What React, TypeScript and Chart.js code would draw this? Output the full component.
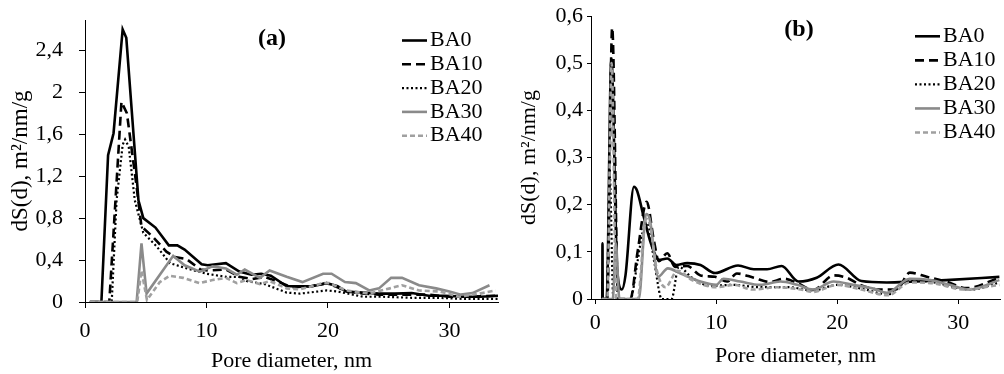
import React, { useEffect, useRef } from "react";
import { Chart, registerables } from "chart.js";
Chart.register(...registerables);

// ---------- labels & ticks ----------
const SERIES_LABELS = ["BA0", "BA10", "BA20", "BA30", "BA40"];
const X_TICKS = [0, 10, 20, 30];
const A_Y_TICKS = [0, 0.4, 0.8, 1.2, 1.6, 2, 2.4];
const B_Y_TICKS = [0, 0.1, 0.2, 0.3, 0.4, 0.5, 0.6];
const X_TITLE = "Pore diameter, nm";
const Y_TITLE = "dS(d), m²/nm/g";

// ---------- panel (a) data ----------
const A_BA0_X = [0.4, 1.35, 1.9, 2.35, 3.1, 3.4, 4.4, 4.8, 5.8, 6.9, 7.6, 8.2, 9.6, 10.1, 11.6, 12.7, 13.7, 14.5, 15.3, 16.6, 17.7, 18.7, 19.9, 20.8, 21.5, 22.8, 24.2, 25.5, 26.9, 28.3, 29.6, 31.3, 32.6, 34];
const A_BA0_Y = [0, 0, 1.4, 1.61, 2.6, 2.52, 0.97, 0.8, 0.71, 0.54, 0.54, 0.5, 0.36, 0.35, 0.37, 0.29, 0.26, 0.27, 0.25, 0.15, 0.15, 0.15, 0.18, 0.15, 0.1, 0.09, 0.08, 0.08, 0.085, 0.06, 0.06, 0.05, 0.05, 0.06];

const A_BA10_X = [0.4, 2.0, 2.5, 3.0, 3.45, 4.25, 4.65, 5.6, 6.7, 7.4, 8.35, 9.5, 10.2, 11.6, 12.7, 13.8, 14.8, 16.2, 17.0, 18.6, 19.9, 20.8, 21.5, 23, 24.2, 26, 28.3, 30, 31.5, 34];
const A_BA10_Y = [0, 0, 0.95, 1.91, 1.8, 1.1, 0.72, 0.62, 0.48, 0.43, 0.41, 0.31, 0.3, 0.31, 0.24, 0.22, 0.24, 0.18, 0.14, 0.15, 0.18, 0.14, 0.1, 0.08, 0.07, 0.07, 0.07, 0.05, 0.05, 0.06];

const A_BA20_X = [0.4, 2.2, 2.6, 3.1, 3.3, 3.6, 4.1, 4.8, 5.9, 7.0, 8.4, 10.0, 11.6, 12.7, 13.3, 14.8, 16.6, 17.7, 19.9, 20.8, 22.9, 24.5, 26.9, 29, 31, 34];
const A_BA20_Y = [0, 0, 0.97, 1.5, 1.55, 1.48, 0.97, 0.66, 0.53, 0.37, 0.32, 0.27, 0.24, 0.24, 0.2, 0.17, 0.09, 0.08, 0.11, 0.1, 0.05, 0.05, 0.04, 0.04, 0.03, 0.03];

const A_BA30_X = [0.4, 4.25, 4.65, 5.07, 6.16, 7.26, 8.2, 9.45, 10.5, 11.6, 12.5, 13.15, 14.4, 15.2, 16.6, 17.9, 19.6, 20.3, 21.4, 22.3, 23.4, 24.2, 25.2, 26.1, 27.5, 28.9, 30.0, 30.95, 31.9, 33.3];
const A_BA30_Y = [0, 0, 0.56, 0.08, 0.26, 0.44, 0.35, 0.29, 0.34, 0.32, 0.26, 0.31, 0.23, 0.3, 0.24, 0.19, 0.27, 0.27, 0.19, 0.18, 0.11, 0.13, 0.23, 0.23, 0.16, 0.13, 0.1, 0.07, 0.085, 0.16];

const A_BA40_X = [0.4, 4.3, 4.65, 5.1, 6.16, 6.98, 8.08, 9.45, 10.5, 11.6, 12.5, 13.3, 14.4, 15.2, 16.6, 17.7, 19.6, 20.1, 21.5, 23.4, 25.1, 26.1, 27.5, 29.2, 30.8, 32.5, 33.8];
const A_BA40_Y = [0, 0, 0.3, 0.02, 0.19, 0.25, 0.23, 0.18, 0.21, 0.23, 0.18, 0.21, 0.17, 0.2, 0.13, 0.12, 0.18, 0.18, 0.11, 0.08, 0.13, 0.16, 0.11, 0.1, 0.05, 0.08, 0.11];

// ---------- panel (b) data ----------
const B_BA0_X = [0.55, 0.58, 0.6, 0.62, 0.94, 1.33, 1.82, 2.2, 2.5, 3.2, 3.45, 4.0, 4.6, 5.26, 5.95, 6.7, 7.6, 8.7, 9.9, 11.8, 13.1, 14.2, 15.4, 16.8, 18.3, 20.1, 22.0, 24.1, 26.3, 29.0, 33.4];
const B_BA0_Y = [0, 0, 0.118, 0, 0, 0.51, 0.06, 0.02, 0.05, 0.238, 0.23, 0.175, 0.118, 0.083, 0.086, 0.072, 0.076, 0.072, 0.055, 0.071, 0.063, 0.063, 0.07, 0.037, 0.045, 0.073, 0.038, 0.035, 0.037, 0.04, 0.047];

const B_BA10_X = [0.55, 1.0, 1.4, 1.9, 2.9, 3.5, 4.25, 4.84, 5.26, 5.95, 6.6, 7.6, 8.7, 9.9, 10.9, 11.7, 13.1, 14.4, 15.6, 16.7, 18.0, 19.7, 20.8, 21.9, 23.5, 24.9, 26.0, 27.4, 29.0, 30.7, 33.4];
const B_BA10_Y = [0, 0, 0.575, 0, 0, 0.1, 0.206, 0.125, 0.08, 0.097, 0.068, 0.07, 0.05, 0.047, 0.037, 0.054, 0.045, 0.036, 0.043, 0.034, 0.019, 0.05, 0.045, 0.03, 0.02, 0.02, 0.056, 0.047, 0.037, 0.023, 0.045];

const B_BA20_X = [0.55, 0.95, 1.2, 1.5, 2.9, 3.5, 3.9, 4.3, 4.9, 5.5, 6.3, 6.9, 8.0, 9.5, 11.5, 13.5, 16, 18, 20, 22, 24.2, 26, 28, 31, 33.4];
const B_BA20_Y = [0, 0, 0.26, 0, 0, 0.08, 0.14, 0.16, 0.075, 0, 0, 0.068, 0.045, 0.028, 0.03, 0.025, 0.025, 0.018, 0.03, 0.022, 0.01, 0.04, 0.035, 0.02, 0.035];

const B_BA30_X = [0.55, 1.45, 1.7, 2.0, 3.6, 4.2, 4.5, 5.2, 6.0, 7.05, 8.7, 10.0, 10.6, 12.0, 13.6, 15.3, 16.7, 18.0, 19.7, 21.3, 23.0, 24.1, 26.0, 27.7, 29.3, 30.9, 33.4];
const B_BA30_Y = [0, 0, 0.118, 0, 0, 0.18, 0.17, 0.047, 0.065, 0.054, 0.037, 0.03, 0.043, 0.037, 0.03, 0.037, 0.03, 0.02, 0.037, 0.03, 0.022, 0.013, 0.043, 0.04, 0.03, 0.02, 0.04];

const B_BA40_X = [0.55, 1.0, 1.35, 1.75, 3.5, 4.2, 4.5, 5.1, 5.8, 6.8, 8.0, 10.0, 11.5, 13.0, 15.0, 17.0, 18.0, 20.0, 22.0, 24.2, 26.0, 28.0, 30.5, 33.4];
const B_BA40_Y = [0, 0, 0.5, 0, 0, 0.17, 0.16, 0.06, 0.025, 0.06, 0.04, 0.025, 0.03, 0.02, 0.025, 0.02, 0.015, 0.03, 0.02, 0.008, 0.035, 0.033, 0.02, 0.03];

const A_SERIES = [[A_BA0_X, A_BA0_Y], [A_BA10_X, A_BA10_Y], [A_BA20_X, A_BA20_Y], [A_BA30_X, A_BA30_Y], [A_BA40_X, A_BA40_Y]];
const B_SERIES = [[B_BA0_X, B_BA0_Y], [B_BA10_X, B_BA10_Y], [B_BA20_X, B_BA20_Y], [B_BA30_X, B_BA30_Y], [B_BA40_X, B_BA40_Y]];

const FONT = "'Liberation Serif', 'Times New Roman', serif";

const STYLES = [
  { color: "#000000", width: 2.6, dash: [] as number[] },
  { color: "#000000", width: 2.6, dash: [9, 5] },
  { color: "#000000", width: 2.2, dash: [2, 2.5] },
  { color: "#8a8a8a", width: 2.6, dash: [] as number[] },
  { color: "#a0a0a0", width: 2.6, dash: [5, 3] },
];

const fmt = (v: number) => String(Math.round(v * 10) / 10).replace(".", ",");

type PanelCfg = {
  series: number[][][];
  yTicks: number[];
  xMin: number; xMax: number; yMax: number;
  yAxisWidth: number; xAxisHeight: number;
  padTop: number; padRight: number;
  yTickLen: number; yTickPad: number;
  xTickLen: number; xTickPad: number;
  yTitleSize: number; yTitlePad: number;
  xTitlePad: number;
  tension: number;
  legend: { x0: number; len: number; tx: number; y0: number; dy: number };
  panel: { text: string; x: number; y: number };
};

function makeChart(canvas: HTMLCanvasElement, cfg: PanelCfg) {
  const datasets = cfg.series.map((s, i) => ({
    label: SERIES_LABELS[i],
    data: s[0].map((x, j) => ({ x, y: s[1][j] })),
    borderColor: STYLES[i].color,
    borderWidth: STYLES[i].width,
    borderDash: STYLES[i].dash,
    pointRadius: 0,
    fill: false,
    tension: 0,
    cubicInterpolationMode: cfg.tension > 0 ? ("monotone" as const) : ("default" as const),
    order: 5 - i,
  }));

  const overlay = {
    id: "overlay",
    afterDraw(chart: any) {
      const ctx = chart.ctx as CanvasRenderingContext2D;
      ctx.save();
      chart.data.datasets.forEach((ds: any, i: number) => {
        const y = cfg.legend.y0 + i * cfg.legend.dy;
        ctx.beginPath();
        ctx.setLineDash(ds.borderDash || []);
        ctx.strokeStyle = ds.borderColor;
        ctx.lineWidth = ds.borderWidth;
        ctx.moveTo(cfg.legend.x0, y);
        ctx.lineTo(cfg.legend.x0 + cfg.legend.len, y);
        ctx.stroke();
        ctx.setLineDash([]);
        ctx.fillStyle = "#000";
        ctx.font = `22px ${FONT}`;
        ctx.textAlign = "left";
        ctx.textBaseline = "middle";
        ctx.fillText(ds.label, cfg.legend.tx, y);
      });
      ctx.font = `bold 24px ${FONT}`;
      ctx.textAlign = "center";
      ctx.textBaseline = "middle";
      ctx.fillStyle = "#000";
      ctx.fillText(cfg.panel.text, cfg.panel.x, cfg.panel.y);
      ctx.restore();
    },
  };

  return new Chart(canvas, {
    type: "line",
    data: { datasets },
    plugins: [overlay],
    options: {
      animation: false,
      responsive: false,
      devicePixelRatio: 1,
      layout: { padding: { top: cfg.padTop, right: cfg.padRight, left: 0, bottom: 0 } },
      plugins: { legend: { display: false }, tooltip: { enabled: false } },
      elements: { line: { tension: cfg.tension } },
      scales: {
        x: {
          type: "linear",
          min: cfg.xMin,
          max: cfg.xMax,
          afterBuildTicks: (scale: any) => {
            scale.ticks = X_TICKS.map((v) => ({ value: v }));
          },
          afterFit: (scale: any) => {
            scale.height = cfg.xAxisHeight;
            scale.paddingLeft = 0;
            scale.paddingRight = 0;
          },
          border: { display: true, color: "#000", width: 1 },
          grid: { display: true, drawOnChartArea: false, drawTicks: true, tickLength: cfg.xTickLen, color: "#000" },
          ticks: {
            color: "#000",
            font: { family: FONT, size: 22 },
            padding: cfg.xTickPad,
            maxRotation: 0,
            autoSkip: false,
            callback: (v: any) => fmt(Number(v)),
          },
          title: {
            display: true,
            text: X_TITLE,
            color: "#000",
            font: { family: FONT, size: 22 },
            padding: { top: 0, bottom: cfg.xTitlePad },
          },
        },
        y: {
          type: "linear",
          min: 0,
          max: cfg.yMax,
          afterBuildTicks: (scale: any) => {
            scale.ticks = cfg.yTicks.map((v) => ({ value: v }));
          },
          afterFit: (scale: any) => {
            scale.width = cfg.yAxisWidth;
            scale.paddingTop = 0;
            scale.paddingBottom = 0;
          },
          border: { display: true, color: "#000", width: 1 },
          grid: { display: true, drawOnChartArea: false, drawTicks: true, tickLength: cfg.yTickLen, color: "#000" },
          ticks: {
            color: "#000",
            font: { family: FONT, size: 22 },
            padding: cfg.yTickPad,
            autoSkip: false,
            callback: (v: any) => fmt(Number(v)),
          },
          title: {
            display: true,
            text: Y_TITLE,
            color: "#000",
            font: { family: FONT, size: cfg.yTitleSize },
            padding: { top: cfg.yTitlePad, bottom: 0 },
          },
        },
      },
    } as any,
  });
}

const PANEL_A: PanelCfg = {
  series: A_SERIES,
  yTicks: A_Y_TICKS,
  xMin: 0, xMax: 34, yMax: 2.69,
  yAxisWidth: 85, xAxisHeight: 72,
  padTop: 20, padRight: 7,
  yTickLen: 6, yTickPad: 16,
  xTickLen: 6, xTickPad: 10,
  yTitleSize: 23, yTitlePad: 7,
  xTitlePad: 0,
  tension: 0,
  legend: { x0: 402, len: 25, tx: 430, y0: 40.5, dy: 23.8 },
  panel: { text: "(a)", x: 272, y: 39 },
};

const PANEL_B: PanelCfg = {
  series: B_SERIES,
  yTicks: B_Y_TICKS,
  xMin: -0.35, xMax: 33.45, yMax: 0.6,
  yAxisWidth: 86, xAxisHeight: 75,
  padTop: 16, padRight: 4,
  yTickLen: 4, yTickPad: 4,
  xTickLen: 5, xTickPad: 6,
  yTitleSize: 22, yTitlePad: 11,
  xTitlePad: 5,
  tension: 0.3,
  legend: { x0: 410, len: 25, tx: 438, y0: 36.3, dy: 24.05 },
  panel: { text: "(b)", x: 294, y: 30 },
};

function Panel({ cfg, left, width }: { cfg: PanelCfg; left: number; width: number }) {
  const ref = useRef<HTMLCanvasElement | null>(null);
  useEffect(() => {
    if (!ref.current) return;
    const chart = makeChart(ref.current, cfg);
    return () => chart.destroy();
  }, [cfg]);
  return (
    <canvas
      ref={ref}
      width={width}
      height={374}
      style={{ position: "absolute", left, top: 0, width, height: 374 }}
    />
  );
}

export default function App() {
  return (
    <div style={{ position: "absolute", left: 0, top: 0, width: 1004, height: 374, background: "#fff" }}>
      <Panel cfg={PANEL_A} left={0} width={505} />
      <Panel cfg={PANEL_B} left={505} width={499} />
    </div>
  );
}
